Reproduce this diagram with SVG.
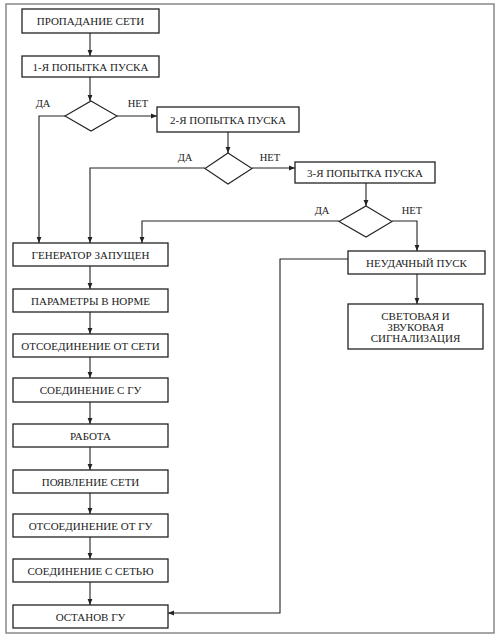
<svg xmlns="http://www.w3.org/2000/svg" width="500" height="643" viewBox="0 0 500 643" font-family="'Liberation Serif', 'DejaVu Serif', serif">
<style>
.box{fill:#fff;stroke:#222;stroke-width:1.3}
.dia{fill:#fff;stroke:#222;stroke-width:1.1}
text{font-family:'Liberation Serif','DejaVu Serif',serif}
.t{font-size:11px;fill:#222;text-anchor:middle;dominant-baseline:central}
.lbl{font-size:10.5px;fill:#222;text-anchor:middle;dominant-baseline:central}
.c{fill:none;stroke:#222;stroke-width:1.1}
</style>
<defs>
<marker id="ar" viewBox="0 0 10 10" refX="10" refY="5" markerWidth="6" markerHeight="6" orient="auto" markerUnits="userSpaceOnUse">
<path d="M0,1 L10,5 L0,9 z" fill="#222"/>
</marker>
</defs>
<rect x="0" y="0" width="500" height="643" fill="#fff"/>
<rect id="frame" x="6" y="4" width="488" height="629" fill="none" stroke="#888" stroke-width="1.5"/>
<g id="connectors">
<path class="c" d="M90,33 V56" marker-end="url(#ar)"/>
<path class="c" d="M90,77 V101" marker-end="url(#ar)"/>
<path class="c" d="M117,116 H157" marker-end="url(#ar)"/>
<path class="c" d="M65,116 H39 V243" marker-end="url(#ar)"/>
<path class="c" d="M228,132 V153" marker-end="url(#ar)"/>
<path class="c" d="M252,168 H295" marker-end="url(#ar)"/>
<path class="c" d="M205,168 H90 V243" marker-end="url(#ar)"/>
<path class="c" d="M366,183 V206" marker-end="url(#ar)"/>
<path class="c" d="M339,221 H142 V243" marker-end="url(#ar)"/>
<path class="c" d="M392,221 H417 V251" marker-end="url(#ar)"/>
<path class="c" d="M417,274 V304" marker-end="url(#ar)"/>
<path class="c" d="M348,259 H280 V613 H168" marker-end="url(#ar)"/>
<path class="c" d="M90,266 V289" marker-end="url(#ar)"/>
<path class="c" d="M90,312 V334" marker-end="url(#ar)"/>
<path class="c" d="M90,357 V378" marker-end="url(#ar)"/>
<path class="c" d="M90,402 V424" marker-end="url(#ar)"/>
<path class="c" d="M90,447 V470" marker-end="url(#ar)"/>
<path class="c" d="M90,493 V514" marker-end="url(#ar)"/>
<path class="c" d="M90,537 V559" marker-end="url(#ar)"/>
<path class="c" d="M90,582 V605" marker-end="url(#ar)"/>
</g>
<g id="labels">
<text class="lbl" x="43" y="103">ДА</text>
<text class="lbl" x="138" y="103">НЕТ</text>
<text class="lbl" x="185" y="157">ДА</text>
<text class="lbl" x="270" y="157">НЕТ</text>
<text class="lbl" x="322" y="210">ДА</text>
<text class="lbl" x="412" y="210">НЕТ</text>
</g>
<g id="n1"><rect class="box" x="22" y="9" width="137" height="24"/><text class="t" x="90.5" y="21">ПРОПАДАНИЕ СЕТИ</text></g>
<g id="n2"><rect class="box" x="22" y="56" width="137" height="21"/><text class="t" x="90.5" y="66.5">1-Я ПОПЫТКА ПУСКА</text></g>
<g id="d1"><polygon class="dia" points="91,101 117,116 91,131 65,116"/></g>
<g id="n3"><rect class="box" x="157" y="107" width="142" height="25"/><text class="t" x="228" y="119.5">2-Я ПОПЫТКА ПУСКА</text></g>
<g id="d2"><polygon class="dia" points="228,153 252,168.5 228,184 205,168.5"/></g>
<g id="n4"><rect class="box" x="295" y="162" width="140" height="21"/><text class="t" x="365" y="172.5">3-Я ПОПЫТКА ПУСКА</text></g>
<g id="d3"><polygon class="dia" points="366,206 392,221.5 366,237 339,221.5"/></g>
<g id="n5"><rect class="box" x="348" y="251" width="137" height="23"/><text class="t" x="416.5" y="262.5">НЕУДАЧНЫЙ ПУСК</text></g>
<g id="n6"><rect class="box" x="348" y="304" width="135" height="45"/><text class="t" x="415.5" y="315.5">СВЕТОВАЯ И</text><text class="t" x="415.5" y="326.5">ЗВУКОВАЯ</text><text class="t" x="415.5" y="337.5">СИГНАЛИЗАЦИЯ</text></g>
<g id="n7"><rect class="box" x="13" y="243" width="155" height="23"/><text class="t" x="90.5" y="254.5">ГЕНЕРАТОР ЗАПУЩЕН</text></g>
<g id="n8"><rect class="box" x="13" y="289" width="155" height="23"/><text class="t" x="90.5" y="300.5">ПАРАМЕТРЫ В НОРМЕ</text></g>
<g id="n9"><rect class="box" x="13" y="334" width="155" height="23"/><text class="t" x="90.5" y="345.5">ОТСОЕДИНЕНИЕ ОТ СЕТИ</text></g>
<g id="n10"><rect class="box" x="13" y="378" width="155" height="24"/><text class="t" x="90.5" y="390">СОЕДИНЕНИЕ С ГУ</text></g>
<g id="n11"><rect class="box" x="13" y="424" width="155" height="23"/><text class="t" x="90.5" y="435.5">РАБОТА</text></g>
<g id="n12"><rect class="box" x="13" y="470" width="155" height="23"/><text class="t" x="90.5" y="481.5">ПОЯВЛЕНИЕ СЕТИ</text></g>
<g id="n13"><rect class="box" x="13" y="514" width="155" height="23"/><text class="t" x="90.5" y="525.5">ОТСОЕДИНЕНИЕ ОТ ГУ</text></g>
<g id="n14"><rect class="box" x="13" y="559" width="155" height="23"/><text class="t" x="90.5" y="570.5">СОЕДИНЕНИЕ С СЕТЬЮ</text></g>
<g id="n15"><rect class="box" x="13" y="605" width="155" height="23"/><text class="t" x="90.5" y="616.5">ОСТАНОВ ГУ</text></g>
</svg>
